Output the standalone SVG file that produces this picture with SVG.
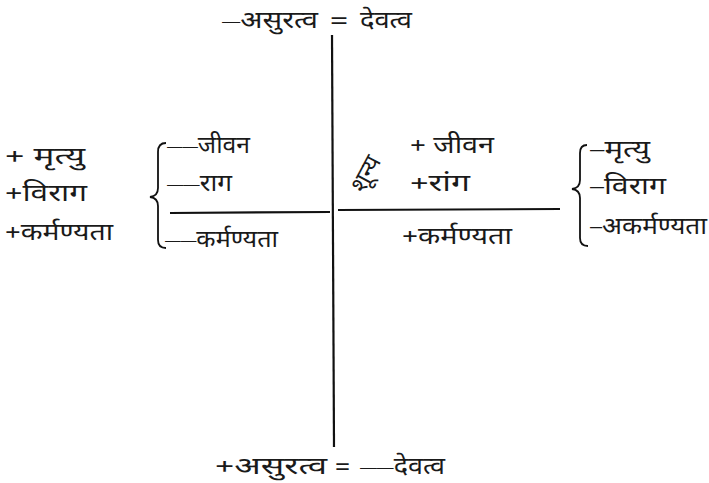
<svg xmlns="http://www.w3.org/2000/svg" width="709" height="483" viewBox="0 0 709 483">
<style>
text{font-family:"Noto Sans Devanagari","Noto Serif Devanagari","Noto Sans",sans-serif;font-size:24px;font-weight:400;fill:#1a1a1a;white-space:pre}
.d{font-family:"Liberation Sans",sans-serif;font-size:15px}
.e{font-family:"Liberation Sans",sans-serif;font-size:20px}
.ln{stroke:#111;stroke-width:2.2;fill:none}
.br{stroke:#111;stroke-width:1.8;fill:none}
</style>
<rect width="709" height="483" fill="#fff"/>
<g id="connectors">
<line class="ln" x1="332" y1="35" x2="334" y2="447"/>
<line class="ln" x1="170" y1="213" x2="330" y2="212"/>
<line class="ln" x1="338" y1="210" x2="560" y2="209"/>
</g>
<g id="top">
<text x="222" y="28" textLength="96" lengthAdjust="spacingAndGlyphs"><tspan class="d" dy="-2">—</tspan><tspan dy="2">असुरत्व</tspan></text>
<text x="330" y="28" textLength="18" lengthAdjust="spacingAndGlyphs">=</text>
<text x="360" y="28" textLength="52" lengthAdjust="spacingAndGlyphs">देवत्व</text>
</g>
<g id="bottom">
<text x="215" y="474" textLength="112" lengthAdjust="spacingAndGlyphs">+असुरत्व</text>
<text x="335" y="474" textLength="15" lengthAdjust="spacingAndGlyphs">=</text>
<text x="360" y="474" textLength="85" lengthAdjust="spacingAndGlyphs"><tspan class="d" dy="-2">——</tspan><tspan dy="2">देवत्व</tspan></text>
</g>
<g id="left-list">
<text x="5" y="164" textLength="80" lengthAdjust="spacingAndGlyphs">+ मृत्यु</text>
<text x="5" y="201" textLength="82" lengthAdjust="spacingAndGlyphs">+विराग</text>
<text x="5" y="240" textLength="108" lengthAdjust="spacingAndGlyphs">+कर्मण्यता</text>
</g>
<g id="left-brace">
<path class="br" d="M166,143 Q158,143 158,152 L158,188 Q158,196 150,197 Q158,198 158,206 L158,240 Q158,248 166,248"/>
<text x="167" y="153" textLength="83" lengthAdjust="spacingAndGlyphs"><tspan class="d" dy="-2">——</tspan><tspan dy="2">जीवन</tspan></text>
<text x="167" y="191" textLength="65" lengthAdjust="spacingAndGlyphs"><tspan class="d" dy="-2">——</tspan><tspan dy="2">राग</tspan></text>
<text x="165" y="247" textLength="113" lengthAdjust="spacingAndGlyphs"><tspan class="d" dy="-2">——</tspan><tspan dy="2">कर्मण्यता</tspan></text>
</g>
<g id="right-upper">
<text transform="translate(364,194) rotate(-62)" style="font-size:24px">शून्य</text>
<text x="410" y="153" textLength="84" lengthAdjust="spacingAndGlyphs">+ जीवन</text>
<text x="410" y="191" textLength="60" lengthAdjust="spacingAndGlyphs">+रांग</text>
</g>
<g id="right-lower"><text x="402" y="244" textLength="110" lengthAdjust="spacingAndGlyphs">+कर्मण्यता</text></g>
<g id="right-brace">
<path class="br" d="M587,145 Q580,145 580,153 L580,180 Q580,188 572,189 Q580,190 580,198 L580,238 Q580,246 588,246"/>
<text x="590" y="157" textLength="60" lengthAdjust="spacingAndGlyphs"><tspan class="e" dy="-1">–</tspan><tspan dy="1">मृत्यु</tspan></text>
<text x="590" y="194" textLength="76" lengthAdjust="spacingAndGlyphs"><tspan class="e" dy="-1">–</tspan><tspan dy="1">विराग</tspan></text>
<text x="590" y="234" textLength="117" lengthAdjust="spacingAndGlyphs"><tspan class="e" dy="-1">–</tspan><tspan dy="1">अकर्मण्यता</tspan></text>
</g>
</svg>
